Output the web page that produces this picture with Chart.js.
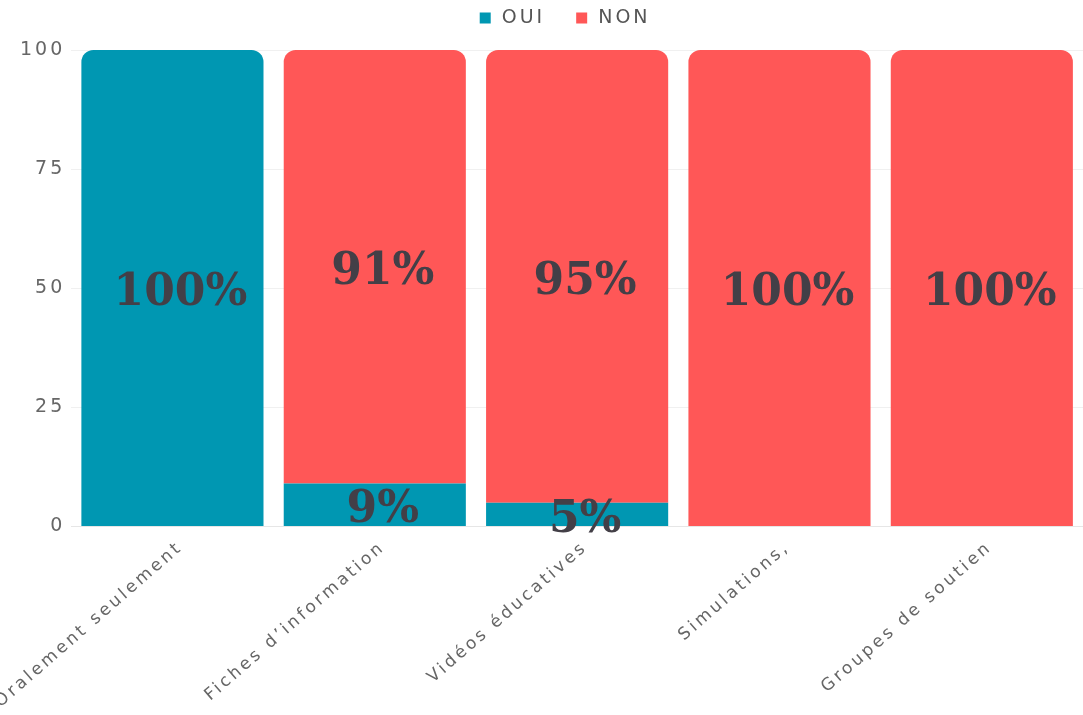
<!DOCTYPE html>
<html>
<head>
<meta charset="utf-8">
<script src="https://cdn.jsdelivr.net/npm/chart.js@4/dist/chart.umd.min.js"></script>
<style>
  html, body { margin: 0; padding: 0; background: #fff; }
  .wrap { position: relative; width: 1083px; height: 715px; }
</style>
</head>
<body>
<div class="wrap"><canvas id="myChart"></canvas></div>
<script>
const categories = [
  'Oralement seulement',
  'Fiches d\u2019information',
  'Vidéos éducatives',
  'Simulations,',
  'Groupes de soutien'
];
const ouiValues = [100, 9, 5, 0, 0];
const nonValues = [0, 91, 95, 100, 100];
const yTicks = [0, 25, 50, 75, 100];

const teal = '#0097b2';
const red = '#ff5757';
const textFont = '"DejaVu Sans"';

// rounded top only on the highest non-empty segment of each bar
function topRadius(ctx) {
  const i = ctx.dataIndex;
  const isTop = ctx.datasetIndex === 1 ? nonValues[i] > 0 : nonValues[i] === 0;
  return isTop ? { topLeft: 12, topRight: 12, bottomLeft: 0, bottomRight: 0 } : 0;
}

// wide spaced axis text
const spacing = {
  id: 'spacing',
  beforeLayout(chart) { chart.ctx.letterSpacing = '3px'; },
  beforeDraw(chart) { chart.ctx.letterSpacing = '3px'; }
};

// small square legend above the plot
const topLegend = {
  id: 'topLegend',
  afterDraw(chart) {
    const c = chart.ctx;
    c.save();
    c.letterSpacing = '3px';
    c.font = '19px ' + textFont;
    c.textBaseline = 'middle';
    const box = 11, gap = 11, between = 31;
    const items = chart.data.datasets.map(ds => ({
      text: ds.label, color: ds.backgroundColor, w: c.measureText(ds.label).width
    }));
    const total = items.reduce((s, it) => s + box + gap + it.w, 0) + between * (items.length - 1);
    const mid = (chart.chartArea.left + chart.chartArea.right) / 2 - 12;
    let x = mid - total / 2;
    const y = 18;
    items.forEach(it => {
      c.fillStyle = it.color;
      c.fillRect(x, y - box / 2, box, box);
      c.fillStyle = '#555';
      c.fillText(it.text, x + box + gap, y);
      x += box + gap + it.w + between;
    });
    c.restore();
  }
};

// percentage text in the middle of every segment
const segmentLabels = {
  id: 'segmentLabels',
  afterDatasetsDraw(chart) {
    const c = chart.ctx;
    c.save();
    c.letterSpacing = '0px';
    c.font = 'bold 44px "DejaVu Serif"';
    c.fillStyle = '#433f47';
    c.textAlign = 'center';
    c.textBaseline = 'middle';
    chart.data.datasets.forEach((ds, di) => {
      const meta = chart.getDatasetMeta(di);
      meta.data.forEach((bar, i) => {
        const v = ds.data[i];
        if (!v) return;
        const y = (bar.y + bar.base) / 2;
        c.fillText(v + '%', bar.x + 8, y + 6);
      });
    });
    c.restore();
  }
};

const data = {
  labels: categories,
  datasets: [
    {
      label: 'OUI',
      backgroundColor: teal,
      borderColor: teal,
      data: ouiValues,
      borderRadius: topRadius,
      borderSkipped: false
    },
    {
      label: 'NON',
      backgroundColor: red,
      borderColor: red,
      data: nonValues,
      borderRadius: topRadius,
      borderSkipped: false
    }
  ]
};

let myChart = new Chart(
  document.getElementById('myChart'),
  {
    type: 'bar',
    data: data,
    plugins: [spacing, topLegend, segmentLabels],
    options: {
      responsive: true,
      maintainAspectRatio: false,
      animation: false,
      layout: { padding: { top: 50, right: 0, left: 14, bottom: 0 } },
      datasets: {
        bar: { categoryPercentage: 0.9, barPercentage: 1 }
      },
      plugins: {
        legend: false,
        tooltip: { enabled: false }
      },
      scales: {
        x: {
          stacked: true,
          grid: { display: false },
          border: { color: '#e6e6e6' },
          ticks: {
            color: '#666',
            font: { family: textFont, size: 17 },
            minRotation: 41,
            maxRotation: 41,
            labelOffset: 8,
            autoSkip: false
          },
          afterFit(scale) {
            scale.paddingLeft = 0;
            scale.paddingRight = 0;
          }
        },
        y: {
          stacked: true,
          min: 0,
          max: 100,
          grid: { color: '#f0f0f0', drawTicks: false },
          border: { display: false },
          afterBuildTicks(scale) {
            scale.ticks = yTicks.map(v => ({ value: v }));
          },
          ticks: {
            color: '#666',
            padding: 6,
            font: { family: textFont, size: 19 }
          }
        }
      }
    }
  }
);
</script>
</body>
</html>
